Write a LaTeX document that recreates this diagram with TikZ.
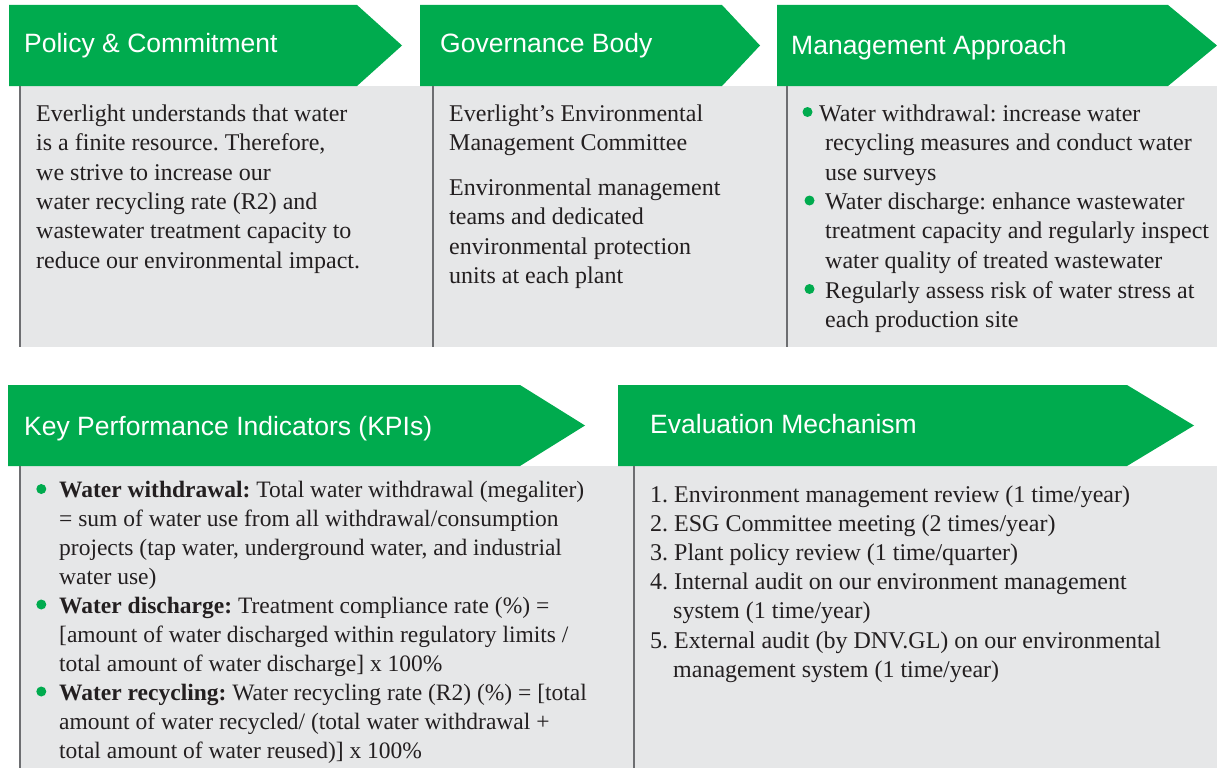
\documentclass[tikz,border=0pt]{standalone}
\usepackage{fontspec}
\setmainfont{Liberation Serif}
\newfontfamily\headfont{Liberation Sans}
\definecolor{egreen}{HTML}{00AB4E}
\definecolor{egrey}{HTML}{E6E7E8}
\definecolor{eline}{HTML}{6D6E71}
\definecolor{etext}{HTML}{231F20}
\newcommand{\mlines}[1]{\begin{tabular}[t]{@{}l@{}}#1\end{tabular}}
\frenchspacing
\begin{document}
\begin{tikzpicture}[x=1pt,y=-1pt,
  head/.style={font=\headfont\fontsize{26.5}{30}\selectfont, text=white, anchor=base west, inner sep=0},
  body/.style={font=\fontsize{24}{29.3}\selectfont\frenchspacing, text=etext, anchor=base west, inner sep=0},
  kbody/.style={body, font=\fontsize{23.5}{29}\selectfont\frenchspacing},
  ebody/.style={body, font=\fontsize{24}{29.2}\selectfont\frenchspacing},
  dot/.style={circle, fill=egreen, minimum size=10pt, inner sep=0},
  sep/.style={draw=eline, line width=2pt}]
\useasboundingbox (0,0) rectangle (1217,768);
% grey bands
\fill[egrey] (20,86) rectangle (1217,347);
\fill[egrey] (20,466) rectangle (1217,768);
% arrows
\fill[egreen] (9,5) -- (357,5) -- (402,45.5) -- (357,86) -- (9,86) -- cycle;
\fill[egreen] (420,5) -- (722,5) -- (760,45.5) -- (722,86) -- (420,86) -- cycle;
\fill[egreen] (777,5) -- (1168,5) -- (1217,45.5) -- (1168,86) -- (777,86) -- cycle;
\fill[egreen] (8,385) -- (520,385) -- (585,425.5) -- (520,466) -- (8,466) -- cycle;
\fill[egreen] (618,385) -- (1127,385) -- (1194,425.5) -- (1127,466) -- (618,466) -- cycle;
% separators
\draw[sep] (20,86) -- (20,347);
\draw[sep] (433,86) -- (433,347);
\draw[sep] (787,86) -- (787,347);
\draw[sep] (20,466) -- (20,768);
\draw[sep] (634,466) -- (634,768);
% headers
\node[head] (h1) at (24,52.5) {Policy \& Commitment};
\node[head] (h2) at (440,52.5) {Governance Body};
\node[head] (h3) at (791,55) {Management Approach};
\node[head] (h4) at (24,435) {Key Performance Indicators (KPIs)};
\node[head] (h5) at (650,433) {Evaluation Mechanism};
% panel 1
\node[body] (p1) at (36,121.5) {\mlines{Everlight understands that water\\is a finite resource. Therefore,\\we strive to increase our\\water recycling rate (R2) and\\wastewater treatment capacity to\\reduce our environmental impact.}};
% panel 2
\node[body] (g1) at (449,121.5) {\mlines{Everlight's Environmental\\Management Committee}};
\node[body] (g2) at (449,195.5) {\mlines{Environmental management\\teams and dedicated\\environmental protection\\units at each plant}};
% panel 3
\node[dot] (m1d) at (807.5,112) {};
\node[body] (m1) at (825,121.5) {\mlines{\hspace*{-6pt}Water withdrawal: increase water\\recycling measures and conduct water\\use surveys}};
\node[dot] (m2d) at (809.5,200.5) {};
\node[body] (m2) at (825,209.5) {\mlines{Water discharge: enhance wastewater\\treatment capacity and regularly inspect\\water quality of treated wastewater}};
\node[dot] (m3d) at (809.5,289) {};
\node[body] (m3) at (825,298) {\mlines{Regularly assess risk of water stress at\\each production site}};
% KPIs
\node[dot] (k1d) at (41.3,489) {};
\node[kbody] (k1) at (59,497.5) {\mlines{\textbf{Water withdrawal:} Total water withdrawal (megaliter)\\= sum of water use from all withdrawal/consumption\\projects (tap water, underground water, and industrial\\water use)}};
\node[dot] (k2d) at (41.3,604.5) {};
\node[kbody] (k2) at (59,613) {\mlines{\textbf{Water discharge:} Treatment compliance rate (\%) =\\{}[amount of water discharged within regulatory limits /\\total amount of water discharge] x 100\%}};
\node[dot] (k3d) at (41.3,691.5) {};
\node[kbody] (k3) at (59,700) {\mlines{\textbf{Water recycling:} Water recycling rate (R2) (\%) = [total\\amount of water recycled/ (total water withdrawal +\\total amount of water reused)] x 100\%}};
% Evaluation
\node[ebody] (e1) at (650,502) {\mlines{1. Environment management review (1 time/year)\\2. ESG Committee meeting (2 times/year)\\3. Plant policy review (1 time/quarter)\\4. Internal audit on our environment management\\\hspace*{23pt}system (1 time/year)\\5. External audit (by DNV.GL) on our environmental\\\hspace*{23pt}management system (1 time/year)}};
\end{tikzpicture}
\end{document}
